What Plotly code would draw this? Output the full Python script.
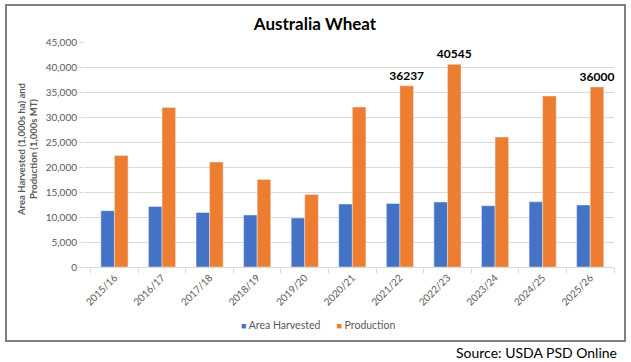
import plotly.graph_objects as go

years = ["2015/16", "2016/17", "2017/18", "2018/19", "2019/20", "2020/21",
         "2021/22", "2022/23", "2023/24", "2024/25", "2025/26"]
area_harvested = [11250, 12100, 10900, 10400, 9800, 12600, 12700, 13000, 12250, 13050, 12400]
production = [22300, 31900, 21000, 17500, 14500, 32000, 36237, 40545, 26000, 34200, 36000]
labelled = ["", "", "", "", "", "", "36237", "40545", "", "", "36000"]
series_names = ["Area Harvested", "Production"]

FONT = "Lato"
GRAY = "#595959"
BLUE = "#4472C4"
ORANGE = "#ED7D31"

fig = go.Figure()
fig.add_trace(go.Bar(x=years, y=area_harvested, name=series_names[0], marker_color=BLUE,
                     showlegend=False))
fig.add_trace(go.Bar(x=years, y=production, name=series_names[1], marker_color=ORANGE,
                     text=labelled, textposition="outside", cliponaxis=False, constraintext="none",
                     textfont=dict(family=FONT, size=12, color="black", weight="bold"),
                     showlegend=False))
# legend entry drawn like the spreadsheet legend (small squares close to text)
legend_name = "&nbsp;&nbsp;&nbsp;&nbsp;&nbsp;&nbsp;".join(
    f'<span style="color:{c};font-size:9px">■</span> {n}'
    for n, c in zip(series_names, [BLUE, ORANGE]))
fig.add_trace(go.Scatter(x=[years[0]], y=[None], mode="markers",
                         marker=dict(size=1, color="rgba(0,0,0,0)"),
                         name=legend_name, hoverinfo="skip"))

W, H = 631, 362
L, R, T, B = 85, 17, 42, 95
pw, ph = W - L - R, H - T - B

def px(x):
    return (x - L) / pw

def py(y):
    return (H - B - y) / ph

fig.update_layout(
    width=W, height=H,
    margin=dict(l=L, r=R, t=T, b=B, autoexpand=False),
    paper_bgcolor="white", plot_bgcolor="white",
    font=dict(family=FONT, color=GRAY, size=10),
    barmode="group", bargap=0.43, bargroupgap=0,
    title=dict(text="<b>Australia Wheat</b>", x=px(315), xref="paper", xanchor="center",
               y=1 - 24 / H, yanchor="middle", font=dict(family=FONT, size=17, color="black")),
    showlegend=True,
    legend=dict(orientation="h", x=px(301), xanchor="center", y=py(325), yanchor="middle",
                font=dict(family=FONT, size=10.5, color=GRAY), itemwidth=30,
                bgcolor="rgba(0,0,0,0)"),
    xaxis=dict(type="category", tickangle=-45, ticks="outside", tickson="boundaries",
               ticklen=5, tickcolor="#d9d9d9", showline=True, linecolor="#d9d9d9",
               tickfont=dict(family=FONT, size=10, color=GRAY)),
    yaxis=dict(range=[0, 45000], dtick=5000, tickformat=",", showgrid=True, gridcolor="#d9d9d9",
               zeroline=False, ticks="outside", ticklen=5, tickcolor="#d9d9d9",
               tickfont=dict(family=FONT, size=10, color=GRAY)),
    shapes=[dict(type="rect", xref="paper", yref="paper", x0=px(6), x1=px(625), y0=py(341), y1=py(5),
                 line=dict(color="#808080", width=2), fillcolor="rgba(0,0,0,0)", layer="below")],
    annotations=[
        dict(text="<b>Area Harvested (1,000s ha) and<br>Production (1,000s MT)</b>", textangle=-90,
             xref="paper", yref="paper", x=px(27), y=py(150), xanchor="center", yanchor="middle",
             showarrow=False, font=dict(family=FONT, size=9.5, color=GRAY)),
        dict(text="Source: USDA PSD Online", xref="paper", yref="paper", x=px(619), y=py(352),
             xanchor="right", yanchor="middle", showarrow=False,
             font=dict(family=FONT, size=14, color="black")),
    ],
)

fig.write_html("out.html", config={"displayModeBar": False},
               post_script="document.body.style.margin='0';document.body.style.overflow='hidden';")
